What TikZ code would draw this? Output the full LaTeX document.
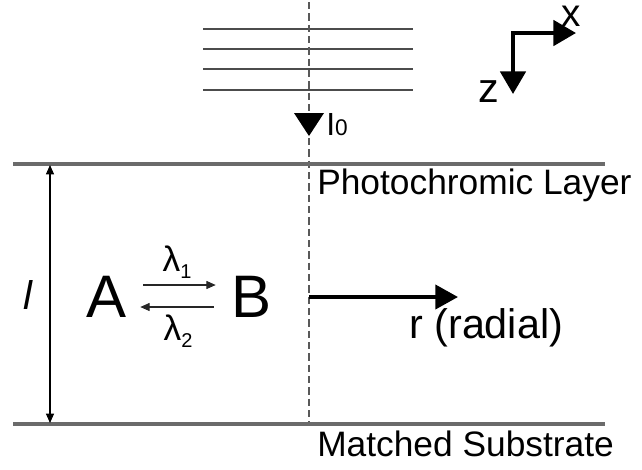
\documentclass[tikz,border=0pt]{standalone}
\usepackage{fontspec}
\setmainfont{Liberation Sans}
\usepackage{tikz}
\usetikzlibrary{arrows.meta, positioning}

\newcommand{\lamsub}[1]{\raisebox{-5pt}{\fontsize{15}{15}\selectfont #1}}

\begin{document}
\begin{tikzpicture}[
        x=0.75pt, y=-0.75pt,
        layerline/.style={draw=black!58, line width=2.4pt},
        beamline/.style={draw=black!70, line width=1pt},
        centerline/.style={draw=black!65, line width=0.8pt, dash pattern=on 5.5pt off 3pt},
        txt/.style={inner sep=0pt, font=\fontsize{26.5}{32}\selectfont},
        bigtxt/.style={inner sep=0pt, font=\fontsize{45}{54}\selectfont},
        rxnarrow/.style={-{Triangle[length=7pt, width=6pt]}, line width=0.8pt, color=black!85},
        dimarrow/.style={{Triangle[length=7pt, width=6pt]}-{Triangle[length=7pt, width=6pt]}, line width=0.8pt},
        boldarrow/.style={-{Triangle[length=17pt, width=18pt]}, line width=3pt},
        axisarrows/.style={{Triangle[length=17pt, width=19pt]}-{Triangle[length=17pt, width=19pt]}, line width=3pt, line join=miter}
    ]
        \useasboundingbox (0,0) rectangle (642,469);

        % Incident beam
        \foreach \y in {29,49,69,90}
            \draw[beamline] (203,\y) -- (413,\y);
        \coordinate (axtop) at (309,2);
        \coordinate (axbot) at (309,424);
        \draw[centerline] (axtop) -- (axbot);
        \fill (294,113) -- (324,113) -- (309,136) -- cycle;
        \node[inner sep=0pt, anchor=base west, font=\fontsize{24}{28}\selectfont] (I0) at (326,135) {I{\fontsize{17}{17}\selectfont 0}};

        % Axes
        \coordinate (origin) at (513,33);
        \coordinate (xtip) at (576,33);
        \coordinate (ztip) at (513,94);
        \draw[axisarrows] (ztip) -- (origin) -- (xtip);
        \node[inner sep=0pt, anchor=base, font=\fontsize{29}{34}\selectfont] (xlab) at (571,26) {x};
        \node[inner sep=0pt, anchor=base, font=\fontsize{31}{36}\selectfont] (zlab) at (489,102) {z};

        % Layers
        \coordinate (topL) at (13,164);
        \coordinate (topR) at (605,164);
        \coordinate (botL) at (13,424);
        \coordinate (botR) at (605,424);
        \draw[layerline] (topL) -- (topR);
        \draw[layerline] (botL) -- (botR);
        \node[txt, anchor=base west] (photo) at (317,194) {Photochromic Layer};
        \node[txt, anchor=base west] (substrate) at (317,456) {Matched Substrate};

        % Thickness
        \coordinate (dimtop) at (50,165);
        \coordinate (dimbot) at (50,423);
        \draw[dimarrow] (dimtop) -- (dimbot);
        \node[inner sep=0pt, anchor=base, font=\fontsize{30}{36}\selectfont\itshape] (thick) at (28,309) {l};

        % Photoreaction
        \node[bigtxt] (A) at (107,297) {A};
        \node[bigtxt] (B) at (252,297) {B};
        \draw[rxnarrow, shorten <=12pt, shorten >=12pt] ([yshift=9pt]A.east) -- ([yshift=9pt]B.west);
        \draw[rxnarrow, shorten <=13.5pt, shorten >=9.75pt] ([yshift=-7.5pt]B.west) -- ([yshift=-7.5pt]A.east);
        \node[txt] (lam1) at (177,262) {λ\lamsub{1}};
        \node[txt] (lam2) at (178,331) {λ\lamsub{2}};

        % Radial direction
        \coordinate (rfoot) at (309,297);
        \coordinate (rhead) at (458,297);
        \draw[boldarrow] (rfoot) -- (rhead);
        \node[inner sep=0pt, anchor=base west, font=\fontsize{31}{36}\selectfont] (radial) at (409,338) {r (radial)};
    \end{tikzpicture}
\end{document}
